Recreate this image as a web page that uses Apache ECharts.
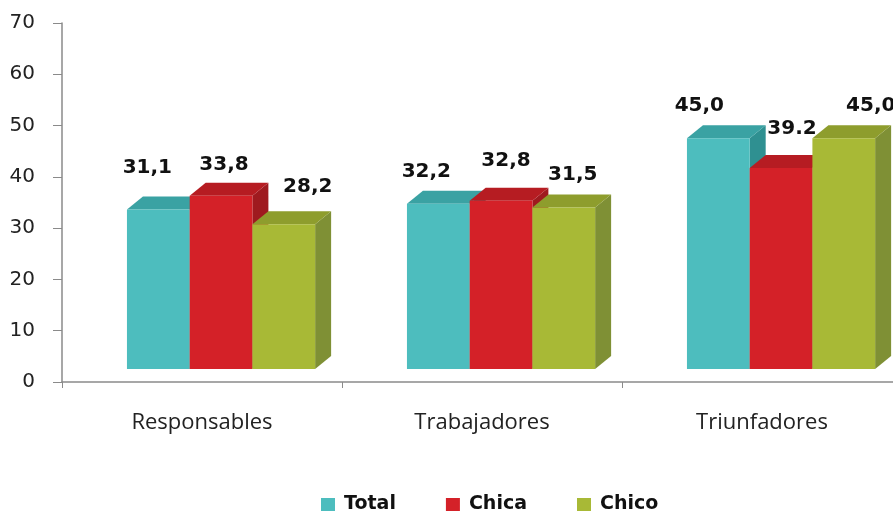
<!DOCTYPE html>
<html>
<head>
<meta charset="utf-8">
<script src="https://cdn.jsdelivr.net/npm/echarts@6/dist/echarts.min.js"></script>
<style>
  html, body { margin: 0; padding: 0; background: #fff; }
  #chart { width: 893px; height: 511px; }
</style>
</head>
<body>
<div id="chart"></div>
<script>
// datos del gráfico
const categories = ['Responsables', 'Trabajadores', 'Triunfadores'];
const seriesNames = ['Total', 'Chica', 'Chico'];
const totalValues = [31.1, 32.2, 45.0];
const chicaValues = [33.8, 32.8, 39.2];
const chicoValues = [28.2, 31.5, 45.0];
// etiquetas tal como aparecen (una usa punto)
const totalText = ['31,1', '32,2', '45,0'];
const chicaText = ['33,8', '32,8', '39.2'];
const chicoText = ['28,2', '31,5', '45,0'];
const yTicks = [0, 10, 20, 30, 40, 50, 60, 70];

// estilo 3D: cara frontal, superior y lateral
const palette = [
  { front: '#4dbdbe', top: '#3aa2a3', side: '#2f9091' },
  { front: '#d42128', top: '#b61c22', side: '#9f1a1f' },
  { front: '#a8b936', top: '#8e9d2d', side: '#7f9035' }
];
const BAR_W = 0.224;      // ancho de barra respecto a la banda
const GROUP_LEFT = -0.268; // inicio del grupo respecto al centro
const LIFT = 13;          // elevación de la cara frontal
const DEPTH_X = 16, DEPTH_Y = 13;
// pequeños desplazamientos de las etiquetas (como en el original)
const labelShift = [
  [[-11, -42], [-12, -32], [-19, -32]],
  [[3, -31], [5, -40], [11, -39]],
  [[24, -38], [9, -33], [27, -32]]
];

const chart = echarts.init(document.getElementById('chart'));

const makeSeries = (idx, values, texts) => ({
  name: seriesNames[idx],
  type: 'custom',
  itemStyle: { color: palette[idx].front },
  encode: { x: 0, y: 1 },
  data: values.map((v, i) => [i, v]),
  renderItem: (params, api) => {
    const ci = api.value(0)
    const v = api.value(1)
    const base = api.coord([ci, 0])
    const top = api.coord([ci, v])
    const band = api.size([1, 0])[0]
    const w = band * BAR_W
    const x0 = base[0] + band * GROUP_LEFT + w * idx
    const x1 = x0 + w
    const yb = base[1] - LIFT
    const yt = top[1] - LIFT
    const c = palette[idx]
    const shift = labelShift[idx][ci]
    return {
      type: 'group',
      children: [
        {
          type: 'polygon',
          shape: { points: [[x1, yt], [x1 + DEPTH_X, yt - DEPTH_Y], [x1 + DEPTH_X, yb - DEPTH_Y], [x1, yb]] },
          style: { fill: c.side }
        },
        {
          type: 'polygon',
          shape: { points: [[x0, yt], [x0 + DEPTH_X, yt - DEPTH_Y], [x1 + DEPTH_X, yt - DEPTH_Y], [x1, yt]] },
          style: { fill: c.top }
        },
        {
          type: 'rect',
          shape: { x: x0, y: yt, width: w, height: yb - yt },
          style: { fill: c.front }
        },
        {
          type: 'text',
          style: {
            text: texts[ci],
            x: (x0 + x1) / 2 + shift[0],
            y: yt + shift[1],
            align: 'center',
            verticalAlign: 'middle',
            fill: '#111',
            font: 'bold 20px "DejaVu Sans"'
          }
        }
      ]
    }
  }
})

const option = {
  backgroundColor: '#fff',
  animation: false,
  grid: { left: 62, width: 840, top: 23, bottom: 129, outerBoundsMode: 'none', containLabel: false },
  legend: {
    left: 316,
    top: 490,
    icon: 'rect',
    itemWidth: 14,
    itemHeight: 13,
    itemGap: 50,
    textStyle: { fontFamily: 'DejaVu Sans', fontWeight: 'bold', fontSize: 19, color: '#111', padding: [0, 0, 0, 4] },
    data: seriesNames
  },
  xAxis: {
    type: 'category',
    data: categories,
    axisLine: { lineStyle: { color: '#8a8a8a', width: 1.5 } },
    axisTick: { show: true, length: 6, lineStyle: { color: '#8a8a8a' } },
    axisLabel: { margin: 30, fontFamily: 'Open Sans', fontSize: 22, color: '#222' }
  },
  yAxis: {
    type: 'value',
    min: yTicks[0],
    max: yTicks[yTicks.length - 1],
    interval: 10,
    splitLine: { show: false },
    axisLine: { show: true, lineStyle: { color: '#8a8a8a', width: 1.5 } },
    axisTick: { show: true, length: 9, lineStyle: { color: '#8a8a8a' } },
    axisLabel: { margin: 27, fontFamily: 'DejaVu Sans', fontSize: 20, color: '#222' }
  },
  series: [
    makeSeries(0, totalValues, totalText),
    makeSeries(1, chicaValues, chicaText),
    makeSeries(2, chicoValues, chicoText)
  ]
}

chart.setOption(option)
</script>
</body>
</html>
